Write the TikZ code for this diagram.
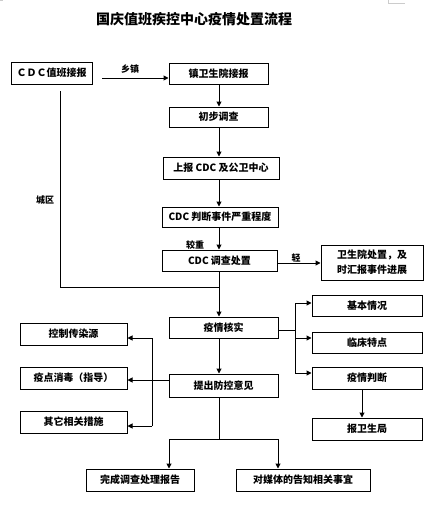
\documentclass[tikz,border=0pt]{standalone}
\usepackage{fontspec}
\newfontfamily\cjk{Noto Sans CJK SC}
\usetikzlibrary{arrows.meta}
\begin{document}
\begin{tikzpicture}[x=1pt,y=-1pt,
  box/.style={draw=black,line width=1pt,inner sep=0pt,font=\cjk\bfseries\fontsize{10}{12}\selectfont,align=center},
  lbl/.style={inner sep=0pt,font=\cjk\bfseries\fontsize{9}{11}\selectfont},
  conn/.style={line width=1pt,-{Triangle[length=5pt,width=5pt]}},
  plain/.style={line width=1pt}]
\useasboundingbox (0,0) rectangle (427,506);
\fill[white] (0,0) rectangle (427,506);
\draw[gray!40,line width=0.5pt] (0,0.5) -- (3,0.5) (388,0) -- (388,3) -- (405,3);
\node[inner sep=0pt,font=\cjk\bfseries\fontsize{14}{16}\selectfont] (title) at (194,19) {国庆值班疾控中心疫情处置流程};
% boxes
\node[box,minimum width=81,minimum height=22] (cdc) at (51.5,73) {ＣＤＣ值班接报};
\node[box,minimum width=99,minimum height=21] (zhen) at (218.5,73.5) {镇卫生院接报};
\node[box,minimum width=99,minimum height=20] (chubu) at (218.5,117) {初步调查};
\node[box,minimum width=116,minimum height=22] (shangbao) at (221,168) {上报 CDC 及公卫中心};
\node[box,minimum width=116,minimum height=20] (panduan) at (220,217) {CDC 判断事件严重程度};
\node[box,minimum width=115,minimum height=21] (diaocha) at (219.5,260.5) {CDC 调查处置};
\node[box,minimum width=102,minimum height=35,font=\cjk\bfseries\fontsize{10}{15}\selectfont] (wsy) at (372,262.5) {卫生院处置，及\\时汇报事件进展};
\node[box,minimum width=109,minimum height=21] (hesh) at (223.5,327.5) {疫情核实};
\node[box,minimum width=109,minimum height=23] (tichu) at (223.5,385.5) {提出防控意见};
\node[box,minimum width=110,minimum height=21] (jiben) at (367,305.5) {基本情况};
\node[box,minimum width=110,minimum height=21] (linchuang) at (367,342.5) {临床特点};
\node[box,minimum width=110,minimum height=22] (yqpd) at (367,378) {疫情判断};
\node[box,minimum width=110,minimum height=22] (bao) at (367,429) {报卫生局};
\node[box,minimum width=107,minimum height=22] (kongzhi) at (73.5,334) {控制传染源};
\node[box,minimum width=107,minimum height=22] (xiaodu) at (73.5,378) {疫点消毒（指导）};
\node[box,minimum width=107,minimum height=22] (qita) at (73.5,422) {其它相关措施};
\node[box,minimum width=108,minimum height=22] (wancheng) at (140,480) {完成调查处理报告};
\node[box,minimum width=134,minimum height=22] (meiti) at (303,480) {对媒体的告知相关事宜};
% labels
\node[lbl] (lxz) at (130,69) {乡镇};
\node[lbl] (ljz) at (195,245) {较重};
\node[lbl] (lq) at (296,258) {轻};
\node[lbl] (lcq) at (45,200) {城区};
% coordinates
\coordinate (m) at (219,0);
\coordinate (c1) at (60,91);
\coordinate (c2) at (60,287);
\coordinate (c3) at (219,287);
\coordinate (r0) at (295,330);
\coordinate (l0) at (152,380);
\coordinate (b0) at (219,439);
% connectors
\draw[conn] (102,78) coordinate (xa) -- (zhen.west |- xa);
\draw[conn] (zhen.south -| m) -- (chubu.north -| m);
\draw[conn] (chubu.south -| m) -- (shangbao.north -| m);
\draw[conn] (shangbao.south -| m) -- (panduan.north -| m);
\draw[conn] (panduan.south -| m) -- (diaocha.north -| m);
\draw[conn] (diaocha.east |- 0,263) -- (wsy.west |- 0,263);
\draw[conn] (diaocha.south -| m) -- (hesh.north -| m);
\draw[plain] (c1) -- (c2) -- (c3);
\draw[conn] (hesh.south -| m) -- (tichu.north -| m);
% right branches
\draw[plain] (hesh.east |- r0) -- (r0);
\draw[plain] (295,303) -- (295,373);
\draw[conn] (295,303) -- (jiben.west |- 0,303);
\draw[conn] (295,338) -- (linchuang.west |- 0,338);
\draw[conn] (295,373) -- (yqpd.west |- 0,373);
\draw[conn] (yqpd.south -| 362,0) -- (bao.north -| 362,0);
% left branches
\draw[conn] (tichu.west |- l0) -- (xiaodu.east |- l0);
\draw[plain] (152,338) -- (152,426);
\draw[conn] (152,338) -- (kongzhi.east |- 0,338);
\draw[conn] (152,426) -- (qita.east |- 0,426);
% bottom
\draw[plain] (tichu.south -| m) -- (b0);
\draw[plain] (169,439) -- (278,439);
\draw[conn] (169,439) -- (wancheng.north -| 169,0);
\draw[conn] (278,439) -- (meiti.north -| 278,0);
\end{tikzpicture}
\end{document}
